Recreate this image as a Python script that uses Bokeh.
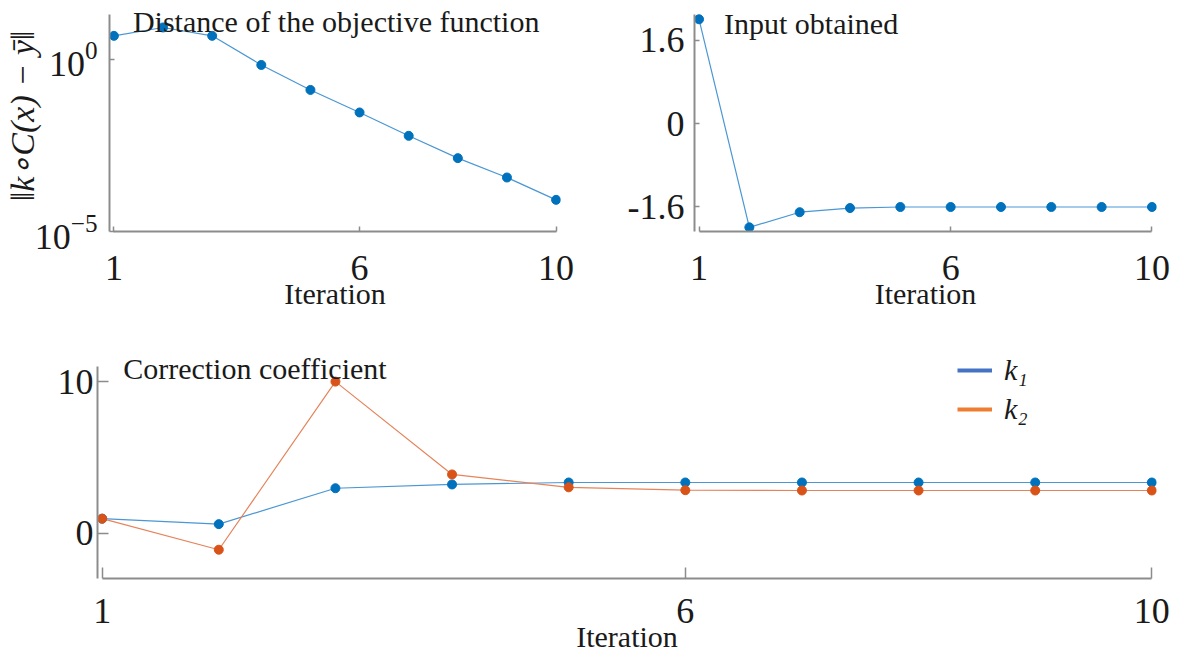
from bokeh.plotting import figure
from bokeh.layouts import column, row
from bokeh.models import FixedTicker, Label, Legend, LegendItem, Range1d
from bokeh.embed import file_html
from bokeh.resources import INLINE

# ---------------- data ----------------
iterations = [1, 2, 3, 4, 5, 6, 7, 8, 9, 10]
objective_distance = [4.8, 8.4, 4.8, 0.685, 0.129, 0.0286, 0.006, 0.00135, 3.7e-4, 8.3e-5]
input_obtained = [2.0, -1.99, -1.70, -1.62, -1.60, -1.60, -1.60, -1.60, -1.60, -1.60]
k1 = [0.95, 0.59, 2.96, 3.21, 3.34, 3.34, 3.34, 3.34, 3.34, 3.34]
k2 = [0.95, -1.10, 10.0, 3.87, 3.02, 2.83, 2.81, 2.81, 2.81, 2.81]
x_ticks = [1, 6, 10]
log_ticks = [1e-5, 1]
input_ticks = [-1.6, 0, 1.6]
coef_ticks = [0, 10]

FONT = "Liberation Serif"
AX = "#8c8c8c"
TXT = "#1a1a1a"
BLUE = "#0072BD"
BLUE_L = "#4a97d4"
ORANGE = "#D95319"
ORANGE_L = "#e5845b"


def style(p, tick_len, lab_size="36px"):
    for ax in (p.xaxis[0], p.yaxis[0]):
        ax.axis_line_color = AX
        ax.axis_line_width = 2
        ax.major_tick_line_color = AX
        ax.major_tick_line_width = 1.5
        ax.major_tick_in = tick_len
        ax.major_tick_out = 0
        ax.minor_tick_line_color = None
        ax.major_label_text_font = FONT
        ax.major_label_text_font_size = lab_size
        ax.major_label_text_color = TXT
        ax.axis_label_text_font = FONT
        ax.axis_label_text_font_size = "30px"
        ax.axis_label_text_font_style = "normal"
        ax.axis_label_text_color = TXT
    p.xgrid.visible = False
    p.ygrid.visible = False
    p.outline_line_color = None
    p.background_fill_color = "white"
    p.border_fill_color = "white"


def title_label(p, x, y, xo, yo, text):
    p.add_layout(Label(x=x, y=y, x_offset=xo, y_offset=yo, text=text,
                       text_baseline="alphabetic", text_align="left",
                       text_font=FONT, text_font_size="30px",
                       text_color=TXT))


# ---------------- top-left ----------------
p1 = figure(width=592, height=317, x_range=Range1d(0.91, 10.09),
            y_range=Range1d(1e-5, 51), y_axis_type="log",
            output_backend="svg", toolbar_location=None,
            min_border_left=100, min_border_right=32,
            min_border_top=0, min_border_bottom=85)
style(p1, 5)
p1.line(iterations, objective_distance, line_color=BLUE_L, line_width=1.2)
p1.scatter(iterations, objective_distance, size=9, fill_color=BLUE, line_color=BLUE)
p1.xaxis.ticker = FixedTicker(ticks=x_ticks)
p1.xaxis.bounds = (1, 10)
p1.xaxis.axis_label = "Iteration"
p1.xaxis.major_label_standoff = 24
p1.xaxis.axis_label_standoff = -6
p1.yaxis.ticker = FixedTicker(ticks=log_ticks)
p1.yaxis.bounds = (1e-5, 20)
p1.yaxis.major_label_standoff = 12
p1.yaxis.axis_label = "\u2016k\u2218C(x) \u2212 \u0233\u2016"
p1.yaxis.axis_label_text_font_style = "italic"
p1.yaxis.axis_label_text_font_size = "34px"
p1.yaxis.axis_label_standoff = -9
title_label(p1, 1, 20, 19, -7, "Distance of the objective function")

# ---------------- top-right ----------------
p2 = figure(width=579, height=317, x_range=Range1d(0.91, 10.09),
            y_range=Range1d(-2.07, 2.36),
            output_backend="svg", toolbar_location=None,
            min_border_left=102, min_border_right=15,
            min_border_top=0, min_border_bottom=86)
style(p2, 5)
p2.line(iterations, input_obtained, line_color=BLUE_L, line_width=1.2)
p2.scatter(iterations, input_obtained, size=9, fill_color=BLUE, line_color=BLUE)
p2.xaxis.ticker = FixedTicker(ticks=x_ticks)
p2.xaxis.bounds = (1, 10)
p2.xaxis.axis_label = "Iteration"
p2.xaxis.major_label_standoff = 24
p2.xaxis.axis_label_standoff = -6
p2.yaxis.ticker = FixedTicker(ticks=input_ticks)
p2.yaxis.major_label_overrides = {-1.6: "-1.6", 0: "0", 1.6: "1.6"}
p2.yaxis.bounds = (-2.07, 2.09)
p2.yaxis.major_label_standoff = 10
title_label(p2, 1, 2.09, 25, -9, "Input obtained")

# ---------------- bottom ----------------
p3 = figure(width=1171, height=338, x_range=Range1d(0.96, 10.04),
            y_range=Range1d(-3, 12.78),
            output_backend="svg", toolbar_location=None,
            min_border_left=97, min_border_right=15,
            min_border_top=22, min_border_bottom=77)
style(p3, 11)
p3.line(iterations, k1, line_color=BLUE_L, line_width=1.2)
p3.scatter(iterations, k1, size=9, fill_color=BLUE, line_color=BLUE)
p3.line(iterations, k2, line_color=ORANGE_L, line_width=1.2)
p3.scatter(iterations, k2, size=9, fill_color=ORANGE, line_color=ORANGE)
p3.xaxis.ticker = FixedTicker(ticks=x_ticks)
p3.xaxis.bounds = (1, 10)
p3.xaxis.axis_label = "Iteration"
p3.xaxis.major_label_standoff = 20
p3.xaxis.axis_label_standoff = -6
p3.yaxis.ticker = FixedTicker(ticks=coef_ticks)
p3.yaxis.bounds = (-3, 11)
p3.yaxis.major_label_standoff = 4
title_label(p3, 1, 11, 21, -2, "Correction coefficient")

# legend swatches: thick lines, renderers hidden from the plot area
r_k1 = p3.line(iterations, k1, line_color="#4472C4", line_width=4, visible=False)
r_k2 = p3.line(iterations, k2, line_color="#ED7D31", line_width=4, visible=False)
legend = Legend(items=[LegendItem(label="k\u2081", renderers=[r_k1]),
                       LegendItem(label="k\u2082", renderers=[r_k2])],
                location=(860, 152), padding=0, margin=0, spacing=5,
                glyph_width=35, glyph_height=30, label_height=30,
                label_standoff=12, border_line_color=None,
                background_fill_alpha=0,
                label_text_font=FONT, label_text_font_size="30px",
                label_text_font_style="italic", label_text_color=TXT)
p3.add_layout(legend, "center")

layout = column(row(p1, p2, spacing=0), p3, spacing=0)
open("out.html", "w").write(file_html(layout, INLINE))
